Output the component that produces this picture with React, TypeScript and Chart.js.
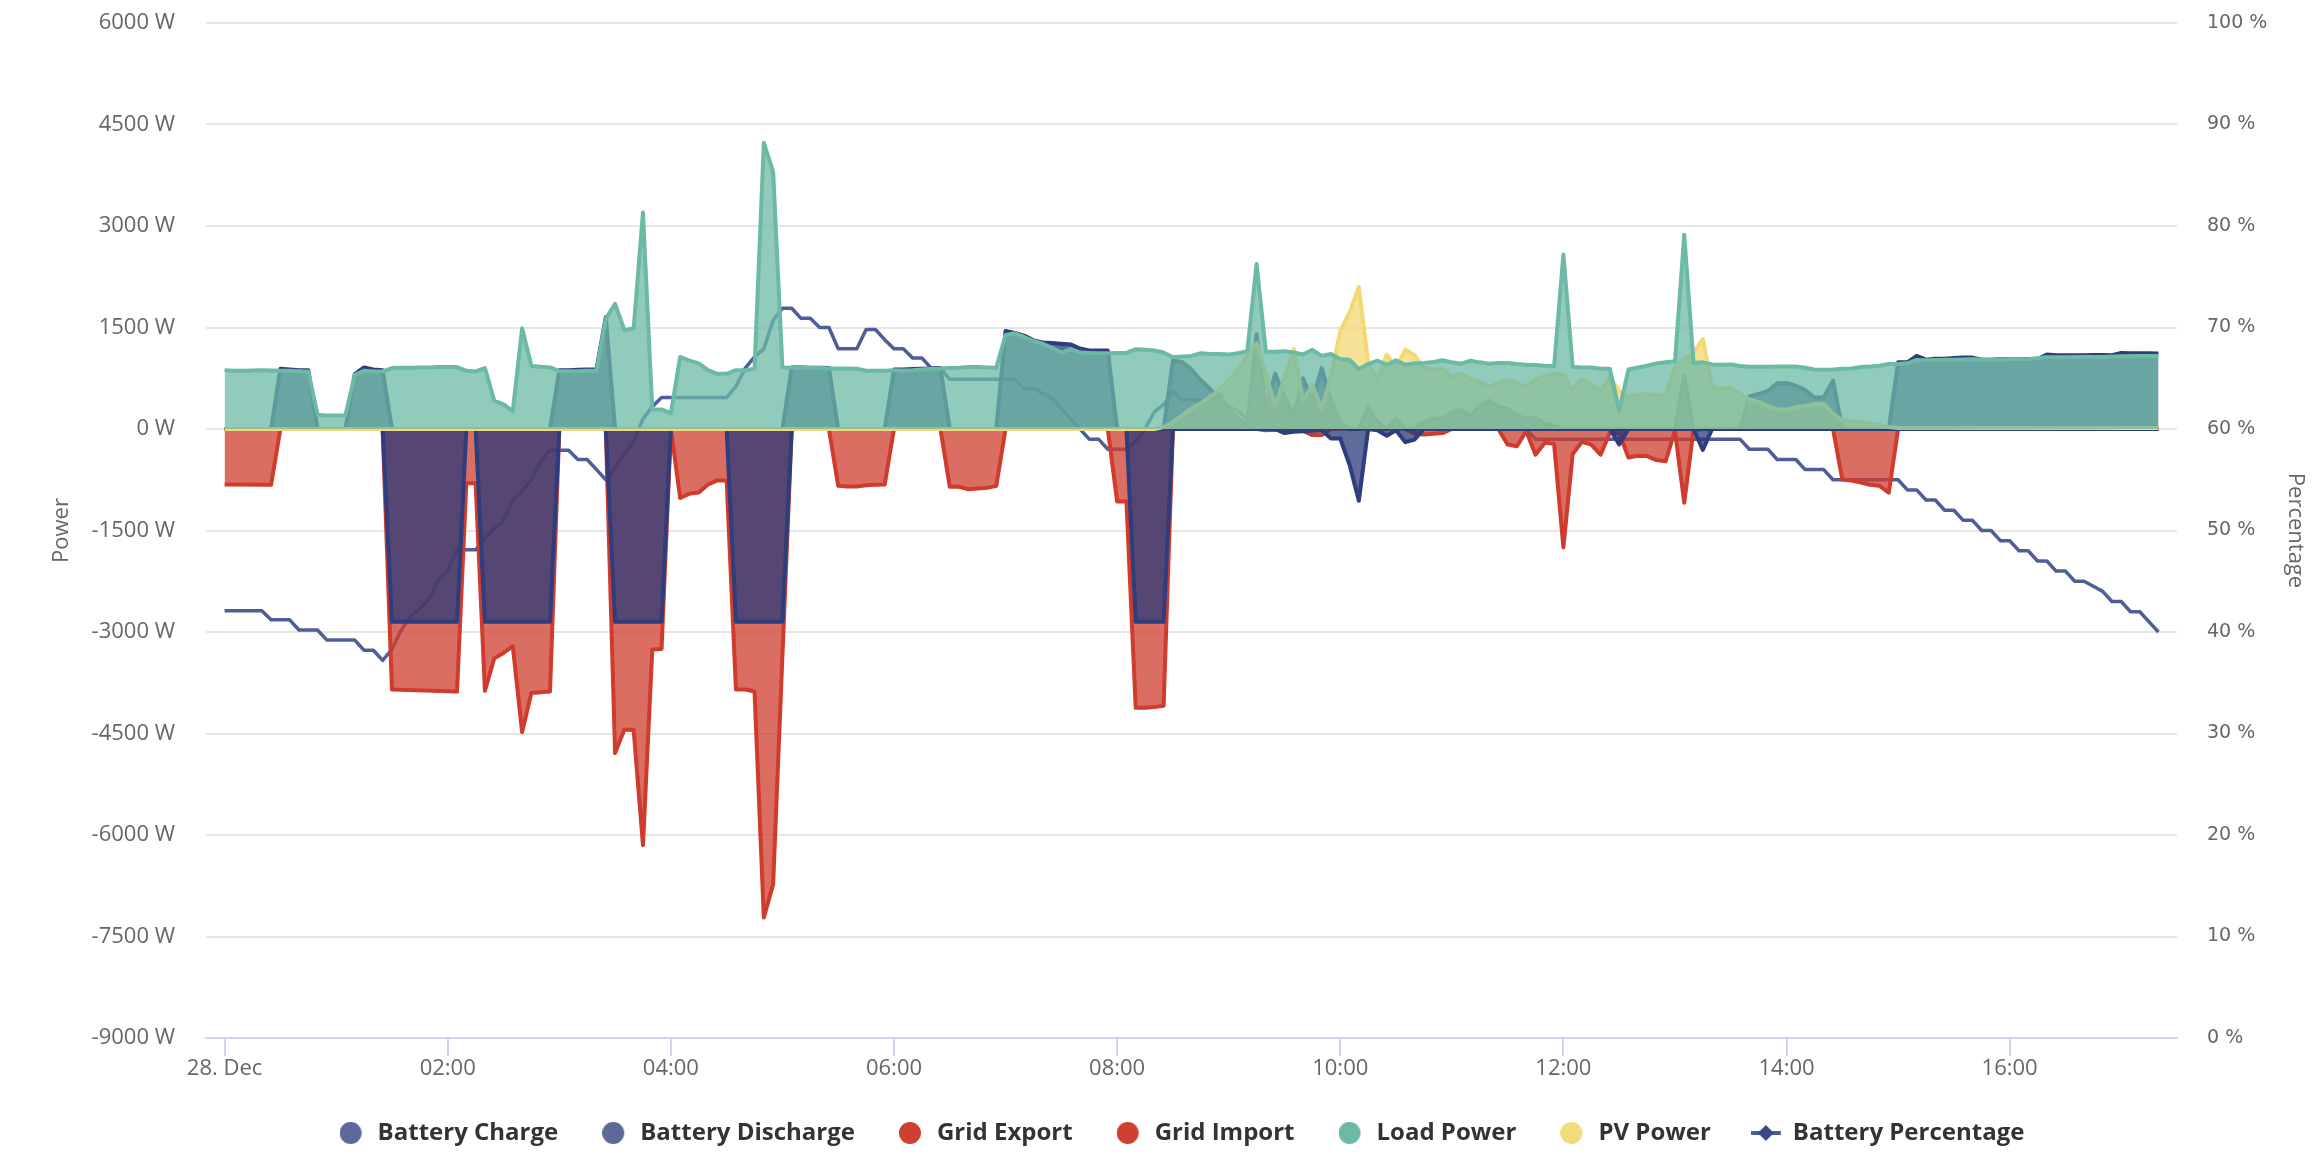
import React, { useEffect, useRef } from "react";
import { Chart, registerables } from "chart.js";

Chart.register(...registerables);

// ---- data (time in minutes after 28 Dec 00:00, values in W / %) ----
const timeTicks: number[] = [0, 120, 240, 360, 480, 600, 720, 840, 960];

const batteryCharge: [number, number][] = [
  [0, 0], [25, 0], [30, 890], [35, 880], [40, 870], [45, 870], [50, 0], [65, 0], [70, 810], [75, 910], [80, 880], [85, 870], [90, 0],
  [175, 0], [180, 870], [185, 870], [190, 875], [195, 880], [200, 880], [205, 1650], [210, 0],
  [300, 0], [305, 910], [310, 910], [315, 905], [320, 905], [325, 900], [330, 0],
  [355, 0], [360, 880], [365, 880], [370, 885], [375, 890], [380, 895], [385, 900], [390, 0],
  [415, 0], [420, 1450], [425, 1420], [430, 1380], [435, 1310], [440, 1280], [445, 1270], [450, 1260], [455, 1250], [460, 1190], [465, 1160], [470, 1160], [475, 1160], [480, 0],
  [505, 0], [510, 1010], [515, 990], [520, 880], [525, 720], [530, 590], [535, 450], [540, 300], [545, 160], [550, 60], [555, 1400], [560, 300], [565, 820], [570, 470], [575, 200], [580, 750], [585, 420], [590, 900], [595, 420], [600, 100], [605, 0],
  [610, 0], [615, 320], [620, 100], [625, 0], [630, 150], [635, 0], [640, 0], [645, 100], [650, 150], [655, 150], [660, 250], [665, 280], [670, 200], [675, 330], [680, 420], [685, 330], [690, 300], [695, 200], [700, 150], [705, 170], [710, 70], [715, 50], [720, 0],
  [780, 0], [785, 790], [790, 0],
  [815, 0], [820, 480], [825, 520], [830, 560], [835, 675], [840, 680], [845, 640], [850, 575], [855, 465], [860, 465], [865, 715], [870, 0],
  [895, 0], [900, 985], [905, 985], [910, 1080], [915, 1025], [920, 1040], [925, 1040], [930, 1050], [935, 1055], [940, 1055], [945, 1025], [950, 1025], [955, 1030], [960, 1030], [965, 1030], [970, 1035], [975, 1035], [980, 1100], [985, 1090], [990, 1090], [995, 1090], [1000, 1090], [1005, 1095], [1010, 1095], [1015, 1090], [1020, 1125], [1025, 1120], [1030, 1120], [1035, 1120], [1040, 1115],
];

const batteryDischarge: [number, number][] = [
  [0, 0], [85, 0], [90, -2850], [125, -2850], [130, 0], [135, 0], [140, -2850], [175, -2850], [180, 0],
  [205, 0], [210, -2850], [235, -2850], [240, 0], [270, 0], [275, -2850], [300, -2850], [305, 0],
  [485, 0], [490, -2850], [505, -2850], [510, 0],
  [565, 0], [570, -60], [575, -40], [590, -20], [595, -140], [600, -140], [605, -530], [610, -1060], [615, 0], [620, -20], [625, -100], [630, -20], [635, -195], [640, -155], [645, 0],
  [745, 0], [750, -230], [755, 0], [790, 0], [795, -310], [800, 0], [1040, 0],
];

const gridExport: [number, number][] = [
  [0, 0], [555, 0], [560, -20], [565, -10], [580, -30], [585, -90], [590, -90], [595, 0], [635, 0], [640, -70], [645, -80], [650, -70], [655, -60], [660, 0],
  [685, 0], [690, -230], [695, -255], [700, -30], [705, -380], [710, -205], [715, -220], [720, -1750], [725, -370], [730, -190], [735, -230], [740, -380], [745, -55], [750, -60],
  [755, -420], [760, -395], [765, -400], [770, -460], [775, -475], [780, -25], [785, -1090], [790, -10], [795, 0], [1040, 0],
];

const gridImport: [number, number][] = [
  [0, -820], [25, -825], [30, 0], [85, 0], [90, -3850], [125, -3880], [130, -800], [135, -800], [140, -3870], [145, -3390], [150, -3310], [155, -3210], [160, -4480], [165, -3900], [170, -3890], [175, -3880], [180, 0],
  [205, 0], [210, -4790], [215, -4440], [220, -4450], [225, -6150], [230, -3260], [235, -3250], [240, 0], [245, -1020], [250, -955], [255, -940], [260, -820], [265, -760], [270, -760],
  [275, -3850], [280, -3850], [285, -3880], [290, -7220], [295, -6730], [300, -3350], [305, 0],
  [325, 0], [330, -840], [335, -850], [340, -850], [345, -830], [350, -825], [355, -820], [360, 0],
  [385, 0], [390, -855], [395, -855], [400, -890], [405, -880], [410, -870], [415, -840], [420, 0],
  [475, 0], [480, -1070], [485, -1070], [490, -4120], [495, -4120], [500, -4110], [505, -4090], [510, 0],
  [865, 0], [870, -745], [875, -760], [880, -790], [885, -825], [890, -840], [895, -940], [900, 0], [1040, 0],
];

const loadPower: [number, number][] = [
  [0, 870], [5, 860], [10, 860], [15, 865], [20, 870], [25, 865], [30, 860], [35, 860], [40, 855], [45, 850], [50, 210], [55, 200], [60, 200], [65, 205], [70, 800], [75, 860], [80, 850], [85, 850],
  [90, 900], [95, 905], [100, 905], [105, 910], [110, 910], [115, 915], [120, 915], [125, 915], [130, 860], [135, 850], [140, 900], [145, 420], [150, 365], [155, 265], [160, 1490], [165, 930], [170, 920], [175, 910],
  [180, 855], [185, 855], [190, 855], [195, 860], [200, 860], [205, 1630], [210, 1850], [215, 1460], [220, 1490], [225, 3200], [230, 290], [235, 290], [240, 230], [245, 1065], [250, 1010], [255, 970], [260, 870], [265, 815],
  [270, 815], [275, 870], [280, 870], [285, 890], [290, 4230], [295, 3800], [300, 910], [305, 905], [310, 905], [315, 900], [320, 900], [325, 895], [330, 895], [335, 895], [340, 890], [345, 860], [350, 860], [355, 860],
  [360, 870], [365, 865], [370, 870], [375, 880], [380, 890], [385, 895], [390, 900], [395, 905], [400, 915], [405, 915], [410, 910], [415, 905], [420, 1390], [425, 1415], [430, 1360], [435, 1300], [440, 1260], [445, 1200],
  [450, 1130], [455, 1180], [460, 1130], [465, 1125], [470, 1120], [475, 1120], [480, 1125], [485, 1125], [490, 1180], [495, 1170], [500, 1160], [505, 1130], [510, 1060], [515, 1070], [520, 1080], [525, 1120], [530, 1110], [535, 1110],
  [540, 1100], [545, 1120], [550, 1150], [555, 2440], [560, 1140], [565, 1140], [570, 1150], [575, 1130], [580, 1100], [585, 1170], [590, 1080], [595, 1110], [600, 1035], [605, 1025], [610, 885], [615, 960], [620, 1010], [625, 950],
  [630, 1015], [635, 950], [640, 970], [645, 975], [650, 990], [655, 1015], [660, 985], [665, 965], [670, 1010], [675, 985], [680, 965], [685, 975], [690, 975], [695, 960], [700, 950], [705, 945], [710, 935], [715, 930],
  [720, 2580], [725, 915], [730, 910], [735, 910], [740, 890], [745, 890], [750, 270], [755, 880], [760, 910], [765, 935], [770, 970], [775, 985], [780, 1000], [785, 2870], [790, 975], [795, 985], [800, 955], [805, 950],
  [810, 955], [815, 930], [820, 920], [825, 920], [830, 920], [835, 925], [840, 925], [845, 925], [850, 905], [855, 880], [860, 875], [865, 880], [870, 890], [875, 895], [880, 915], [885, 925], [890, 935], [895, 960],
  [900, 960], [905, 970], [910, 1020], [915, 1015], [920, 1020], [930, 1025], [940, 1030], [950, 1025], [960, 1030], [970, 1035], [980, 1060], [990, 1060], [1000, 1065], [1010, 1065], [1020, 1075], [1030, 1080], [1040, 1080],
];

const pvPower: [number, number][] = [
  [0, 0], [500, 0], [505, 30], [510, 100], [515, 200], [520, 300], [525, 380], [530, 480], [535, 580], [540, 720], [545, 870], [550, 1080], [555, 1270], [560, 820], [565, 340], [570, 750], [575, 1180], [580, 420],
  [585, 650], [590, 300], [595, 780], [600, 1450], [605, 1720], [610, 2100], [615, 980], [620, 715], [625, 1100], [630, 910], [635, 1170], [640, 1090], [645, 900], [650, 880], [655, 885], [660, 760], [665, 820], [670, 740],
  [675, 700], [680, 620], [685, 680], [690, 720], [695, 680], [700, 620], [705, 730], [710, 780], [715, 820], [720, 800], [725, 580], [730, 740], [735, 640], [740, 565], [745, 770], [750, 560], [755, 470], [760, 500],
  [765, 520], [770, 500], [775, 495], [780, 920], [785, 1025], [790, 1125], [795, 1330], [800, 600], [805, 600], [810, 615], [815, 520], [820, 440], [825, 400], [830, 340], [835, 290], [840, 290], [845, 320], [850, 340],
  [855, 370], [860, 370], [865, 225], [870, 130], [875, 110], [880, 100], [885, 80], [890, 55], [895, 30], [900, 20], [1040, 15],
];

const batteryPercentage: [number, number][] = [
  [0, 42.1], [20, 42.1], [25, 41.2], [35, 41.2], [40, 40.2], [50, 40.2], [55, 39.2], [70, 39.2], [75, 38.2], [80, 38.2], [85, 37.2], [90, 38.3], [95, 40.2], [100, 41.5], [105, 42.3], [110, 43.3], [115, 45.1], [120, 46.1],
  [125, 48.1], [135, 48.1], [140, 49.2], [145, 50.2], [150, 51], [155, 53], [160, 53.9], [165, 55], [170, 56.8], [175, 57.9], [185, 57.9], [190, 57], [195, 57], [200, 56], [205, 55], [210, 56.2], [215, 57.5], [220, 58.8],
  [225, 61], [230, 62.2], [235, 63.1], [270, 63.1], [275, 64.2], [280, 66], [285, 67.1], [290, 67.9], [295, 70.7], [300, 71.9], [305, 71.9], [310, 70.9], [315, 70.9], [320, 70], [325, 70], [330, 67.9], [340, 67.9], [345, 69.8],
  [350, 69.8], [355, 68.8], [360, 67.9], [365, 67.9], [370, 67], [375, 67], [380, 66], [385, 66], [390, 64.9], [425, 64.9], [430, 64], [435, 64], [440, 63.5], [445, 63], [450, 62], [455, 61], [460, 60], [465, 59], [470, 59],
  [475, 58], [485, 58], [490, 58.8], [495, 60], [500, 61.7], [505, 62.4], [510, 63.7], [515, 62.9], [530, 62.8], [535, 63.5], [540, 62.2], [545, 61.8], [550, 61], [565, 61], [570, 60.5], [575, 60], [700, 60], [705, 59],
  [815, 59], [820, 58], [830, 58], [835, 57], [845, 57], [850, 56], [860, 56], [865, 55], [900, 55], [905, 54], [910, 54], [915, 53], [920, 53], [925, 52], [930, 52], [935, 51], [940, 51], [945, 50], [950, 50], [955, 49],
  [960, 49], [965, 48], [970, 48], [975, 47], [980, 47], [985, 46], [990, 46], [995, 45], [1000, 45], [1005, 44.5], [1010, 44], [1015, 43], [1020, 43], [1025, 42], [1030, 42], [1035, 41], [1040, 40],
];

// ---- styles ----
const BAT_LINE = "#2f3d7c";
const BAT_FILL = "rgba(40,58,122,0.75)";
const RED_LINE = "#cf3b2c";
const RED_FILL = "rgba(207,61,46,0.75)";
const LOAD_LINE = "#6cb9a6";
const LOAD_FILL = "rgba(108,185,166,0.75)";
const PV_LINE = "#f3d874";
const PV_FILL = "rgba(243,216,116,0.75)";
const PCT_LINE = "#4f5e98";
const FONT = "'Open Sans', 'DejaVu Sans', sans-serif";

const legendColors = ["#5b6a9a", "#5b6a9a", "#cf4030", "#cf4030", "#6cb9a6", "#f3da7d", "#4f5e98"];

function circleIcon(color: string) {
  const c = document.createElement("canvas");
  c.width = 26;
  c.height = 24;
  const g = c.getContext("2d")!;
  g.fillStyle = color;
  g.beginPath();
  g.arc(11, 12, 11, 0, Math.PI * 2);
  g.fill();
  return c;
}

function lineDiamondIcon(lineColor: string, markColor: string) {
  const c = document.createElement("canvas");
  c.width = 34;
  c.height = 24;
  const g = c.getContext("2d")!;
  g.strokeStyle = lineColor;
  g.lineWidth = 4;
  g.beginPath();
  g.moveTo(0, 12);
  g.lineTo(30, 12);
  g.stroke();
  g.fillStyle = markColor;
  g.beginPath();
  g.moveTo(15, 4);
  g.lineTo(23, 12);
  g.lineTo(15, 20);
  g.lineTo(7, 12);
  g.closePath();
  g.fill();
  return c;
}

const toXY = (pairs: [number, number][]) => pairs.map(([x, y]) => ({ x, y }));

function hhmm(v: number) {
  if (v === 0) return "28. Dec";
  const h = Math.floor(v / 60);
  return `${String(h).padStart(2, "0")}:00`;
}

export default function App() {
  const ref = useRef<HTMLCanvasElement | null>(null);

  useEffect(() => {
    if (!ref.current) return;
    const icons = legendColors.map((c, i) => (i === 6 ? lineDiamondIcon("#4f5e98", "#3b4a86") : circleIcon(c)));

    const area = (label: string, data: [number, number][], line: string, fill: string, order: number) => ({
      label,
      data: toXY(data),
      borderColor: line,
      backgroundColor: fill,
      borderWidth: 4,
      fill: "origin",
      order,
      yAxisID: "y",
      pointRadius: 0,
      pointHoverRadius: 0,
      tension: 0,
      borderJoinStyle: "round",
    });

    const chart = new Chart(ref.current, {
      type: "line",
      data: {
        datasets: [
          area("Battery Charge", batteryCharge, BAT_LINE, BAT_FILL, 3),
          area("Battery Discharge", batteryDischarge, BAT_LINE, BAT_FILL, 2),
          area("Grid Export", gridExport, RED_LINE, RED_FILL, 5),
          area("Grid Import", gridImport, RED_LINE, RED_FILL, 4),
          area("Load Power", loadPower, LOAD_LINE, LOAD_FILL, 0),
          area("PV Power", pvPower, PV_LINE, PV_FILL, 1),
          {
            label: "Battery Percentage",
            data: toXY(batteryPercentage),
            borderColor: PCT_LINE,
            backgroundColor: PCT_LINE,
            borderWidth: 3.5,
            fill: false,
            order: 6,
            yAxisID: "y1",
            pointRadius: 0,
            pointHoverRadius: 0,
            tension: 0,
            borderJoinStyle: "round",
          },
        ] as any,
      },
      options: {
        animation: false,
        responsive: true,
        maintainAspectRatio: false,
        events: [],
        layout: { padding: { top: 23, right: 0, bottom: 15, left: 42 } },
        plugins: {
          tooltip: { enabled: false },
          legend: {
            position: "bottom",
            align: "center",
            labels: {
              usePointStyle: true,
              pointStyleWidth: 26,
              boxHeight: 24,
              padding: 44,
              color: "#333333",
              font: { family: FONT, size: 24, weight: "bold" },
              generateLabels: (ch: any) =>
                ch.data.datasets.map((ds: any, i: number) => ({
                  text: ds.label,
                  fillStyle: legendColors[i],
                  strokeStyle: legendColors[i],
                  lineWidth: 0,
                  pointStyle: icons[i],
                  hidden: !ch.isDatasetVisible(i),
                  datasetIndex: i,
                  fontColor: "#333333",
                })),
            },
          },
        },
        scales: {
          x: {
            type: "linear",
            min: -10,
            max: 1050,
            afterBuildTicks: (axis: any) => {
              axis.ticks = timeTicks.map((v) => ({ value: v }));
            },
            afterFit: (s: any) => {
              s.height = 39;
            },
            grid: { display: true, drawOnChartArea: false, drawTicks: true, tickLength: 18, color: "#ccd6eb", lineWidth: 2 },
            border: { display: true, color: "#ccd6eb", width: 2 },
            ticks: {
              autoSkip: false,
              maxRotation: 0,
              padding: 0,
              color: "#666666",
              font: { family: FONT, size: 22 },
              callback: (v: any) => hhmm(Number(v)),
            },
          },
          y: {
            position: "left",
            min: -9000,
            max: 6000,
            afterFit: (s: any) => {
              s.width = 164;
            },
            grid: { color: "#e6e6e6", lineWidth: 2, drawTicks: true, tickLength: 31, tickColor: "rgba(0,0,0,0)" },
            border: { display: false },
            ticks: {
              stepSize: 1500,
              padding: 0,
              color: "#666666",
              font: { family: FONT, size: 22 },
              callback: (v: any) => `${v} W`,
            },
            title: {
              display: true,
              text: "Power",
              color: "#666666",
              font: { family: FONT, size: 22 },
              padding: { top: 7, bottom: 0 },
            },
          },
          y1: {
            position: "right",
            min: 0,
            max: 100,
            afterFit: (s: any) => {
              s.width = 145;
            },
            grid: { drawOnChartArea: false, drawTicks: true, tickLength: 30, tickColor: "rgba(0,0,0,0)" },
            border: { display: false },
            ticks: {
              stepSize: 10,
              padding: 0,
              color: "#666666",
              font: { family: "'DejaVu Sans', sans-serif", size: 19 },
              callback: (v: any) => `${v} %`,
            },
            title: {
              display: true,
              text: "Percentage",
              color: "#666666",
              font: { family: FONT, size: 22 },
              padding: { top: 14, bottom: 0 },
            },
          },
        },
      } as any,
    });

    return () => chart.destroy();
  }, []);

  return (
    <div style={{ position: "absolute", left: 0, top: 0, width: "2322px", height: "1170px", background: "#ffffff" }}>
      <canvas ref={ref} />
    </div>
  );
}
